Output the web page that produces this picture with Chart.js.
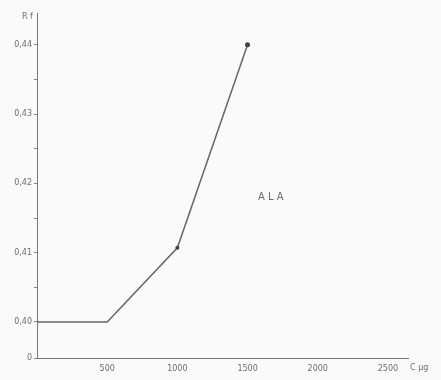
<!DOCTYPE html>
<html>
<head>
<meta charset="utf-8">
<script src="https://cdn.jsdelivr.net/npm/chart.js@4.4.0/dist/chart.umd.min.js"></script>
<style>
  html, body { margin: 0; padding: 0; background: #fafafa; }
  canvas { display: block; }
</style>
</head>
<body>
<canvas id="rfChart" width="441" height="380"></canvas>
<script>
// concentration of ALA (µg) vs Rf
const concentration = [0, 500, 1000, 1500];
const rfValues = [0.400, 0.400, 0.4107, 0.440];
const xTicks = [500, 1000, 1500, 2000, 2500];
const yTicks = [0.40, 0.405, 0.41, 0.415, 0.42, 0.425, 0.43, 0.435, 0.44];
const yLabels = { "0.4": "0,40", "0.41": "0,41", "0.42": "0,42", "0.43": "0,43", "0.44": "0,44" };

// broken axis: bottom of the scale is labelled 0
const yBottom = 0.3948;
const yTop = 0.4446;

const textColor = "#6e6e6e";
const lineColor = "#666";

const extraText = {
  id: "extraText",
  afterDraw(chart) {
    const c = chart.ctx;
    const x = chart.scales.x;
    const y = chart.scales.y;
    c.save();
    c.fillStyle = textColor;
    c.font = "8px 'DejaVu Sans'";
    c.textBaseline = "middle";
    c.textAlign = "left";
    c.fillText("R f", 22, 17);
    c.fillText("C µg", x.right + 2, y.bottom + 10);
    c.font = "10px 'DejaVu Sans'";
    c.fillText("A L A", 258, 197);
    c.restore();
  }
};

const ctx = document.getElementById("rfChart");
new Chart(ctx, {
  type: "line",
  data: {
    datasets: [{
      data: concentration.map((c, i) => ({ x: c, y: rfValues[i] })),
      borderColor: lineColor,
      borderWidth: 1.5,
      pointRadius: [0, 0, 2, 2.5],
      pointBackgroundColor: "#444",
      pointBorderWidth: 0,
      tension: 0,
      parsing: false
    }]
  },
  options: {
    responsive: false,
    animation: false,
    layout: { padding: { top: 13, right: 33, left: 0, bottom: 0 } },
    plugins: { legend: { display: false }, tooltip: { enabled: false } },
    scales: {
      x: {
        type: "linear",
        min: 0,
        max: 2643,
        afterBuildTicks(scale) {
          scale.ticks = xTicks.map(v => ({ value: v }));
        },
        afterFit(scale) { scale.height = 22; },
        grid: { display: false, drawTicks: false },
        border: { color: "#777", width: 1 },
        ticks: {
          color: textColor,
          font: { size: 8, family: "DejaVu Sans" },
          padding: 6,
          maxRotation: 0,
          callback: v => String(v)
        }
      },
      y: {
        type: "linear",
        min: yBottom,
        max: yTop,
        afterBuildTicks(scale) {
          scale.ticks = [{ value: yBottom }].concat(yTicks.map(v => ({ value: v })));
        },
        afterFit(scale) { scale.width = 37; },
        grid: { drawOnChartArea: false, drawTicks: true, tickLength: 3, color: "#888" },
        border: { color: "#777", width: 1 },
        ticks: {
          color: textColor,
          font: { size: 8, family: "DejaVu Sans" },
          padding: 2,
          callback(v) {
            if (Math.abs(v - yBottom) < 1e-6) return "0";
            const key = String(Math.round(v * 1000) / 1000);
            return yLabels[key] || "";
          }
        }
      }
    }
  },
  plugins: [extraText]
});
</script>
</body>
</html>
